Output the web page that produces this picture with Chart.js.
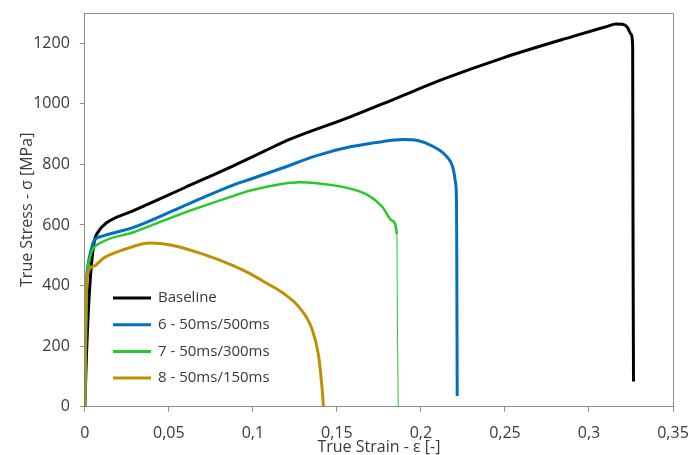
<!DOCTYPE html>
<html>
<head>
  <meta charset="UTF-8">
  <title>True stress - true strain</title>
  <script src="https://cdn.jsdelivr.net/npm/chart.js@4"></script>
  <style>
    html, body { margin: 0; padding: 0; background: #fff; }
    #wrap { width: 697px; height: 455px; position: relative; }
  </style>
</head>
<body>
  <div id="wrap"><canvas id="chart"></canvas></div>
  <script>
    // Series (strain [-], stress [MPa])
    var baselineStrain = [0, 0.0012, 0.003, 0.0054, 0.0083, 0.013, 0.029, 0.059, 0.089, 0.1065, 0.1226, 0.158, 0.186, 0.214, 0.249, 0.290, 0.311, 0.316, 0.320, 0.323, 0.325, 0.326, 0.3262, 0.3265];
    var baselineStress = [0, 200, 400, 537, 580, 607, 647, 722, 797, 843, 884, 957, 1020, 1083, 1152, 1222, 1256, 1264, 1263, 1252, 1230, 1190, 600, 83];

    var s6Strain = [0, 0.0005, 0.001, 0.002, 0.0036, 0.0054, 0.011, 0.029, 0.059, 0.089, 0.098, 0.118, 0.138, 0.158, 0.177, 0.189, 0.198, 0.207, 0.2155, 0.219, 0.2207, 0.2212, 0.2214, 0.2216];
    var s6Stress = [0, 200, 400, 470, 514, 547, 564, 592, 663, 733, 750, 789, 829, 858, 875, 882, 879, 860, 825, 790, 735, 670, 391, 35];

    var s7Strain = [0, 0.0005, 0.0012, 0.003, 0.0042, 0.0095, 0.029, 0.059, 0.089, 0.098, 0.118, 0.128, 0.138, 0.154, 0.168, 0.177, 0.183, 0.1857, 0.186, 0.1865];
    var s7Stress = [0, 150, 400, 490, 514, 541, 576, 640, 697, 713, 736, 741, 738, 725, 700, 660, 614, 570, 300, 0];

    var s8Strain = [0, 0.0003, 0.0012, 0.0054, 0.011, 0.023, 0.039, 0.051, 0.069, 0.089, 0.098, 0.108, 0.118, 0.128, 0.135, 0.139, 0.141, 0.142];
    var s8Stress = [0, 200, 425, 464, 490, 518, 540, 534, 506, 464, 440, 408, 375, 325, 259, 172, 73, 0];

    var seriesLabels = ["Baseline", "6 - 50ms/500ms", "7 - 50ms/300ms", "8 - 50ms/150ms"];
    var seriesColors = ["#000000", "#0070C0", "#22CC22", "#BF9000"];

    var xTickValues = [0, 0.05, 0.1, 0.15, 0.2, 0.25, 0.3, 0.35];
    var xTickLabels = ["0", "0,05", "0,1", "0,15", "0,2", "0,25", "0,3", "0,35"];
    var yTickValues = [0, 200, 400, 600, 800, 1000, 1200];
    var yTickLabels = ["0", "200", "400", "600", "800", "1000", "1200"];

    function toPoints(xs, ys) {
      var pts = [];
      for (var i = 0; i < xs.length; i++) {
        pts.push({ x: xs[i], y: ys[i] });
      }
      return pts;
    }

    var TEXT = "#3a3a3a";
    var AXIS = "#8c8c8c";
    var FONT = "'Open Sans', sans-serif";

    /* Frame around the plot area + legend inside the plot */
    var framePlugin = {
      id: "frame",
      afterDatasetsDraw: function(chart) {
        var a = chart.chartArea;
        var ctx = chart.ctx;
        ctx.save();
        ctx.strokeStyle = AXIS;
        ctx.lineWidth = 1;
        ctx.beginPath();
        ctx.moveTo(a.left, a.top + 0.5);
        ctx.lineTo(a.right + 0.5, a.top + 0.5);
        ctx.lineTo(a.right + 0.5, a.bottom);
        ctx.stroke();

        // legend
        ctx.font = "15px " + FONT;
        ctx.textBaseline = "middle";
        ctx.fillStyle = TEXT;
        for (var i = 0; i < seriesLabels.length; i++) {
          var y = 298 + i * 26.7;
          ctx.strokeStyle = seriesColors[i];
          ctx.lineWidth = 3;
          ctx.beginPath();
          ctx.moveTo(113, y);
          ctx.lineTo(151, y);
          ctx.stroke();
          ctx.fillText(seriesLabels[i], 158, y);
        }
        ctx.restore();
      }
    };

    var allStrain = [baselineStrain, s6Strain, s7Strain, s8Strain];
    var allStress = [baselineStress, s6Stress, s7Stress, s8Stress];
    var datasets = [];
    for (var i = allStrain.length - 1; i >= 0; i--) {
      datasets.push({
        label: seriesLabels[i],
        data: toPoints(allStrain[i], allStress[i]),
        borderColor: seriesColors[i],
        backgroundColor: seriesColors[i],
        borderWidth: 3,
        pointRadius: 0,
        showLine: true,
        cubicInterpolationMode: "monotone",
        fill: false
      });
    }
    // the green drop to zero is drawn thin
    datasets[1].segment = {
      borderWidth: function(c) { return c.p0DataIndex >= s7Strain.length - 3 ? 1 : 2.5; }
    };

    new Chart(document.getElementById("chart"), {
      type: "scatter",
      data: { datasets: datasets },
      options: {
        responsive: true,
        maintainAspectRatio: false,
        animation: false,
        layout: { padding: { left: 18, right: 24, top: 13, bottom: 0 } },
        plugins: {
          legend: { display: false },
          tooltip: { enabled: false }
        },
        scales: {
          x: {
            type: "linear",
            min: 0,
            max: 0.35,
            afterBuildTicks: function(scale) {
              scale.ticks = xTickValues.map(function(v) { return { value: v }; });
            },
            afterFit: function(scale) {
              scale.paddingLeft = 0;
              scale.paddingRight = 0;
            },
            ticks: {
              color: TEXT,
              font: { family: FONT, size: 16 },
              padding: 12,
              maxRotation: 0,
              callback: function(v, idx) { return xTickLabels[idx]; }
            },
            grid: { drawOnChartArea: false, drawTicks: true, tickLength: 5, color: AXIS },
            border: { display: true, color: AXIS, width: 1 },
            title: {
              display: true,
              text: "True Strain - ε [-]",
              color: TEXT,
              font: { family: FONT, size: 16 },
              padding: { top: -17, bottom: -2 }
            }
          },
          y: {
            type: "linear",
            min: 0,
            max: 1300,
            afterBuildTicks: function(scale) {
              scale.ticks = yTickValues.map(function(v) { return { value: v }; });
            },
            afterFit: function(scale) {
              scale.paddingTop = 0;
              scale.paddingBottom = 0;
            },
            ticks: {
              color: TEXT,
              font: { family: FONT, size: 16 },
              padding: 10,
              callback: function(v, idx) { return yTickLabels[idx]; }
            },
            grid: { drawOnChartArea: false, drawTicks: true, tickLength: 5, color: AXIS },
            border: { display: true, color: AXIS, width: 1 },
            title: {
              display: true,
              text: "True Stress - σ [MPa]",
              color: TEXT,
              font: { family: FONT, size: 16 },
              padding: { top: 0, bottom: -14 }
            }
          }
        }
      },
      plugins: [framePlugin]
    });
  </script>
</body>
</html>
